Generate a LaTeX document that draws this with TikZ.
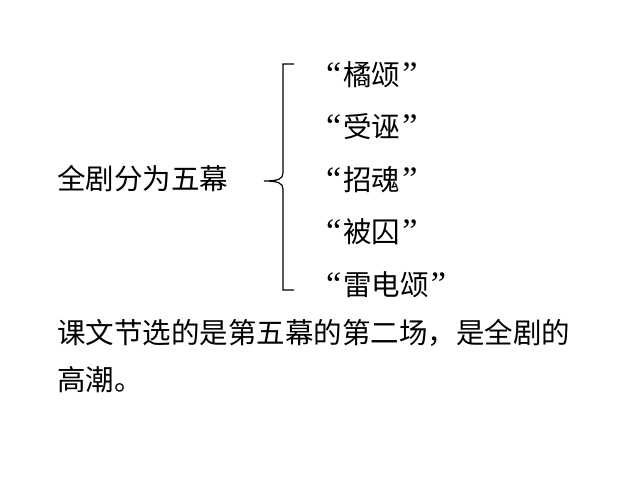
\documentclass[tikz,border=0pt]{standalone}
\usepackage{fontspec}
\setmainfont{Noto Sans CJK SC}
\newfontfamily\quotefont{Liberation Serif}[Scale=1.2]
\newcommand{\qo}{{\quotefont “}\hspace{2pt}}
\newcommand{\qc}{\hspace{2pt}{\quotefont ”}}
\tikzset{
  txt/.style={anchor=west, inner sep=0pt, font=\fontsize{28.5pt}{30pt}\selectfont},
  brace/.style={draw=black, line width=1.2pt}
}

\begin{document}
\begin{tikzpicture}[x=1pt, y=-1pt]
     \useasboundingbox (0,0) rectangle (640,480);

     \node[txt] (whole) at (57,179) {全剧分为五幕};

     \node[txt] (act1) at (326,75)  {\qo 橘颂\qc};
     \node[txt] (act2) at (326,127) {\qo 受诬\qc};
     \node[txt] (act3) at (326,180) {\qo 招魂\qc};
     \node[txt] (act4) at (326,232) {\qo 被囚\qc};
     \node[txt] (act5) at (326,285) {\qo 雷电颂\qc};

     \node[txt] (lesson) at (57,333) {课文节选的是第五幕的第二场，是全剧的};
     \node[txt] (climax) at (57,380) {高潮。};

     \coordinate (btop) at (294,64);
     \coordinate (bbot) at (294,290);
     \coordinate (bmid) at (264,181);

     \path[brace] (btop) -- (283,64) -- (283,173)
          .. controls (283,179) and (278,181) .. (bmid)
          .. controls (278,181) and (283,183) .. (283,189)
          -- (283,290) -- (bbot);
\end{tikzpicture}
\end{document}
